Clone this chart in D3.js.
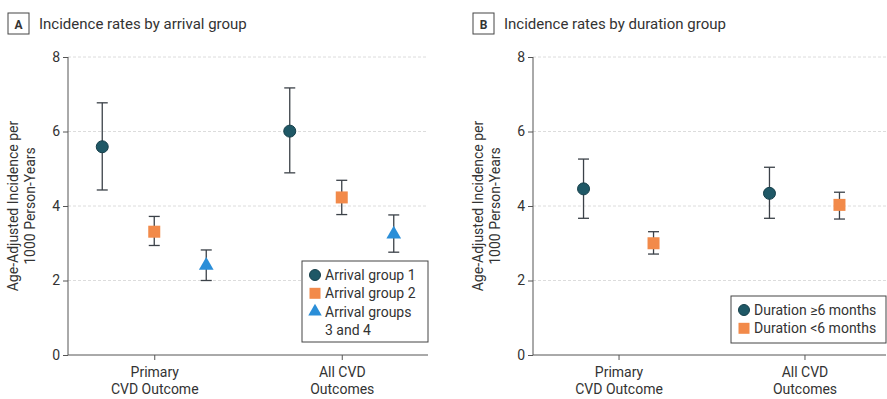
<!DOCTYPE html>
<html>
<head>
<meta charset="utf-8">
<script src="https://cdn.jsdelivr.net/npm/d3@7"></script>
<style>
  body { margin: 0; background: #fff; }
  svg text { font-family: Roboto, "Open Sans", sans-serif; fill: #333; }
</style>
</head>
<body>
<svg id="chart" width="887" height="399"></svg>
<script>
// categories
const outcomes = ["Primary|CVD Outcome", "All CVD|Outcomes"];
const yTicks = [0, 2, 4, 6, 8];

// panel A - arrival groups (one value per outcome)
const arrivalNames = ["Arrival group 1", "Arrival group 2", "Arrival groups|3 and 4"];
const arrivalRate  = [[5.59, 6.01], [3.31, 4.23], [2.40, 3.24]];
const arrivalLow   = [[4.43, 4.89], [2.94, 3.77], [2.00, 2.76]];
const arrivalHigh  = [[6.77, 7.17], [3.72, 4.69], [2.82, 3.76]];

// panel B - duration groups
const durationNames = ["Duration \u22656 months", "Duration <6 months"];
const durationRate  = [[4.46, 4.34], [3.00, 4.03]];
const durationLow   = [[3.67, 3.67], [2.71, 3.65]];
const durationHigh  = [[5.26, 5.04], [3.31, 4.37]];

// colors
const colTeal = "#1f5866";
const colOrange = "#f28a4a";
const colBlue = "#2a8ed8";
const colBar = "#3b4148";

var svg = d3.select("#chart");

function marker(g, shape, color, size) {
  if (shape === "circle") {
    g.append("circle").attr("r", size).attr("fill", color).attr("stroke", "#163f4a").attr("stroke-width", 1);
  } else if (shape === "square") {
    g.append("rect").attr("x", -size).attr("y", -size).attr("width", size * 2).attr("height", size * 2).attr("fill", color);
  } else {
    g.append("path").attr("d", d3.symbol(d3.symbolTriangle, size * size * 2.6)()).attr("fill", color);
  }
}

function drawPanel(opt) {
  var g = svg.append("g");
  var y = d3.scaleLinear().domain([0, 8]).range([355, 57]);
  var x = d3.scalePoint().domain(outcomes).range([opt.left, opt.right]).padding(0.46);
  var inner = d3.scalePoint().domain(d3.range(opt.names.length)).range([-opt.spread, opt.spread]);
  var plotRight = Math.min(opt.right, 886);

  // title box + title
  g.append("rect").attr("x", opt.left - 60).attr("y", 13).attr("width", 21).attr("height", 21)
    .attr("fill", "none").attr("stroke", "#444").attr("stroke-width", 1);
  g.append("text").attr("x", opt.left - 49.5).attr("y", 28.5).attr("text-anchor", "middle")
    .style("font-size", "12px").style("font-weight", "bold").text(opt.letter);
  g.append("text").attr("x", opt.left - 29).attr("y", 29).style("font-size", "15px").text(opt.title);

  // grid
  g.selectAll(".grid").data(yTicks.filter(d => d > 0)).join("line")
    .attr("x1", opt.left).attr("x2", plotRight)
    .attr("y1", d => y(d)).attr("y2", d => y(d))
    .attr("stroke", "#dcdcdc").attr("stroke-dasharray", "3,2");

  // axes
  var ya = g.append("g").attr("transform", "translate(" + opt.left + ",0)")
    .call(d3.axisLeft(y).tickValues(yTicks).tickSize(5).tickPadding(3));
  ya.select(".domain").attr("stroke", "#555").attr("d", "M0," + y(8) + "V" + y(0));
  ya.selectAll(".tick line").attr("stroke", "#555");
  ya.selectAll("text").style("font-size", "14px").attr("fill", "#333").style("font-family", null);

  var xa = g.append("g").attr("transform", "translate(0," + y(0) + ")")
    .call(d3.axisBottom(x).tickSize(5).tickFormat(""));
  xa.select(".domain").attr("stroke", "#555").attr("d", "M" + opt.left + ",0H" + plotRight);
  xa.selectAll(".tick line").attr("stroke", "#555");
  xa.selectAll(".tick").each(function (d) {
    d.split("|").forEach(function (line, i) {
      d3.select(this).append("text").attr("text-anchor", "middle").style("font-size", "14px")
        .attr("x", 0).attr("y", 22 + i * 16.5).text(line);
    }, this);
  });

  // y label
  var yl = g.append("g").attr("transform", "translate(" + (opt.left - 50) + "," + y(4) + ") rotate(-90)");
  ["Age-Adjusted Incidence per", "1000 Person-Years"].forEach(function (line, i) {
    yl.append("text").attr("text-anchor", "middle").style("font-size", "14px")
      .attr("x", 0).attr("y", i * 17).text(line);
  });

  // error bars + markers
  opt.names.forEach(function (name, s) {
    outcomes.forEach(function (o, i) {
      var cx = x(o) + inner(s);
      var bar = g.append("g").attr("stroke", colBar).attr("stroke-width", 1.3);
      bar.append("line").attr("x1", cx).attr("x2", cx).attr("y1", y(opt.low[s][i])).attr("y2", y(opt.high[s][i]));
      [opt.low[s][i], opt.high[s][i]].forEach(function (v) {
        bar.append("line").attr("x1", cx - 5.5).attr("x2", cx + 5.5).attr("y1", y(v)).attr("y2", y(v));
      });
      var m = g.append("g").attr("transform", "translate(" + cx + "," + y(opt.rate[s][i]) + ")");
      marker(m, opt.shapes[s], opt.colors[s], 6);
    });
  });

  // legend
  var lg = g.append("g");
  lg.append("rect").attr("x", opt.legend.x).attr("y", opt.legend.y).attr("width", opt.legend.w).attr("height", opt.legend.h)
    .attr("fill", "#fff").attr("stroke", "#444").attr("stroke-width", 1);
  var row = 0;
  opt.names.forEach(function (name, s) {
    var ry = opt.legend.y + 14 + row * 18.3;
    var m = lg.append("g").attr("transform", "translate(" + (opt.legend.x + 13) + "," + ry + ")");
    marker(m, opt.shapes[s], opt.colors[s], 5.5);
    name.split("|").forEach(function (line, k) {
      lg.append("text").attr("x", opt.legend.x + 23).attr("y", ry + 5 + k * 18.3).style("font-size", "14px").text(line);
    });
    row += name.split("|").length;
  });
}

drawPanel({
  letter: "A", title: "Incidence rates by arrival group",
  left: 68, right: 428, spread: 52,
  names: arrivalNames, rate: arrivalRate, low: arrivalLow, high: arrivalHigh,
  shapes: ["circle", "square", "triangle"], colors: [colTeal, colOrange, colBlue],
  legend: { x: 302, y: 261, w: 126, h: 81 }
});

drawPanel({
  letter: "B", title: "Incidence rates by duration group",
  left: 533, right: 890, spread: 35,
  names: durationNames, rate: durationRate, low: durationLow, high: durationHigh,
  shapes: ["circle", "square"], colors: [colTeal, colOrange],
  legend: { x: 731, y: 296, w: 155, h: 47 }
});
</script>
</body>
</html>
